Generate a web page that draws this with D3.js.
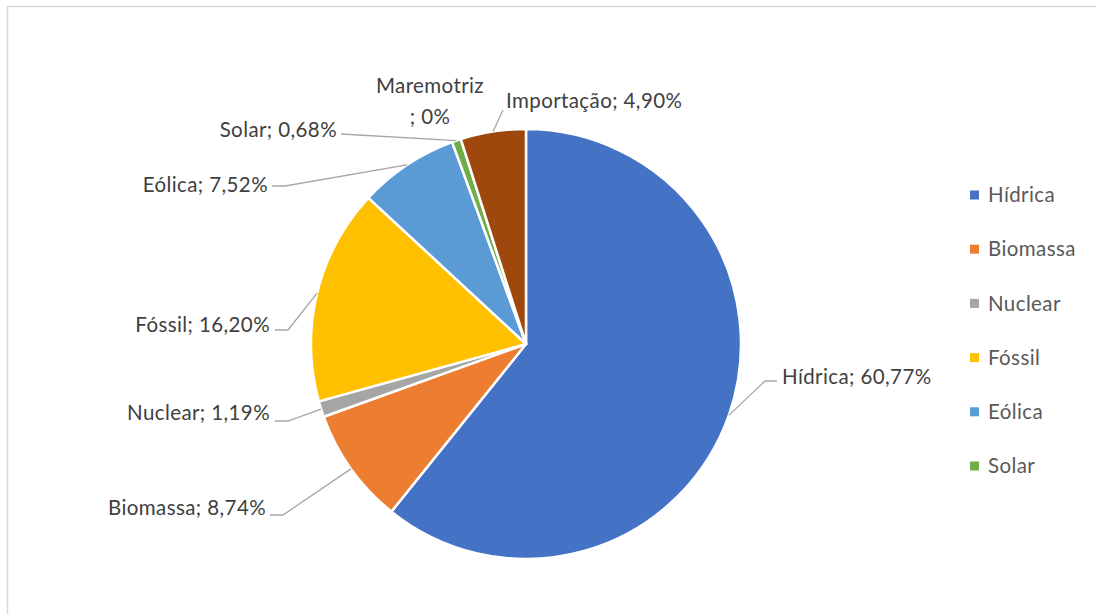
<!DOCTYPE html>
<html>
<head>
<meta charset="utf-8">
<script src="https://cdn.jsdelivr.net/npm/d3@7"></script>
<style>
  html, body { margin: 0; padding: 0; background: #fff; }
  svg { display: block; }
  text { font-family: Lato, "Open Sans", sans-serif; letter-spacing: 0.4px; }
</style>
</head>
<body>
<svg id="chart" width="1096" height="614"></svg>
<script>
// Energy sources and their share of the total (%)
const categories = ["Hídrica", "Biomassa", "Nuclear", "Fóssil", "Eólica", "Solar", "Maremotriz", "Importação"];
const shares = [60.77, 8.74, 1.19, 16.20, 7.52, 0.68, 0, 4.90];
const valueLabels = ["60,77%", "8,74%", "1,19%", "16,20%", "7,52%", "0,68%", "0%", "4,90%"];
const colors = ["#4472C4", "#ED7D31", "#A5A5A5", "#FFC000", "#5B9BD5", "#70AD47", "#264478", "#9E480E"];
const legendItems = ["Hídrica", "Biomassa", "Nuclear", "Fóssil", "Eólica", "Solar"];

const data = categories.map((c, i) => ({ name: c, value: shares[i], label: valueLabels[i], color: colors[i] }));

const svg = d3.select("#chart");
const cx = 526, cy = 344, r = 215;
const fontSize = 20.5;

// outer chart frame
svg.append("rect")
  .attr("x", 7.5).attr("y", 6.5)
  .attr("width", 1200).attr("height", 800)
  .attr("fill", "none")
  .attr("stroke", "#D9D9D9")
  .attr("stroke-width", 1.5);

const pie = d3.pie().value(d => d.value).sort(null);
const arcs = pie(data);
const arc = d3.arc().innerRadius(0).outerRadius(r);

const g = svg.append("g").attr("transform", `translate(${cx},${cy})`);
g.selectAll("path.slice")
  .data(arcs.filter(a => a.data.value > 0))
  .join("path")
  .attr("class", "slice")
  .attr("d", arc)
  .attr("fill", d => d.data.color)
  .attr("stroke", "#fff")
  .attr("stroke-width", 2.5)
  .attr("stroke-linejoin", "round");

// label placement: text anchor point, alignment, and leader elbow
const labelLayout = {
  "Hídrica":    { x: 782, y: 377, anchor: "start", elbow: [[777, 381], [765, 381]] },
  "Biomassa":   { x: 266, y: 508, anchor: "end",   elbow: [[270, 515], [283, 515]] },
  "Nuclear":    { x: 270, y: 413, anchor: "end",   elbow: [[275, 421], [288, 421]] },
  "Fóssil":     { x: 270, y: 325, anchor: "end",   elbow: [[275, 330], [288, 330]] },
  "Eólica":     { x: 268, y: 185, anchor: "end",   elbow: [[272, 186], [285, 186]] },
  "Solar":      { x: 337, y: 130, anchor: "end",   elbow: [[341, 134]] },
  "Maremotriz": { x: 430, y: 86,  anchor: "middle", twoLine: true },
  "Importação": { x: 506, y: 101, anchor: "start", elbow: [[503, 110]] }
};

const line = d3.line();
arcs.forEach(a => {
  const L = labelLayout[a.data.name];
  if (L.elbow) {
    const mid = (a.startAngle + a.endAngle) / 2;
    const px = cx + r * Math.sin(mid);
    const py = cy - r * Math.cos(mid);
    svg.append("path")
      .attr("d", line([...L.elbow, [px, py]]))
      .attr("fill", "none")
      .attr("stroke", "#A6A6A6")
      .attr("stroke-width", 1.3);
  }
  const t = svg.append("text")
    .attr("x", L.x).attr("y", L.y)
    .attr("text-anchor", L.anchor)
    .attr("dy", "0.35em")
    .attr("font-size", fontSize)
    .attr("fill", "#404040");
  if (L.twoLine) {
    t.append("tspan").attr("x", L.x).text(a.data.name);
    t.append("tspan").attr("x", L.x).attr("dy", 31).text("; " + a.data.label);
  } else {
    t.text(`${a.data.name}; ${a.data.label}`);
  }
});

// legend
const legend = svg.append("g");
legendItems.forEach((name, i) => {
  const d = data.find(e => e.name === name);
  const y = 195 + i * 54.2;
  legend.append("rect")
    .attr("x", 970).attr("y", y - 4.5)
    .attr("width", 9).attr("height", 9)
    .attr("fill", d.color);
  legend.append("text")
    .attr("x", 988).attr("y", y)
    .attr("dy", "0.35em")
    .attr("font-size", fontSize)
    .attr("fill", "#595959")
    .text(name);
});
</script>
</body>
</html>
